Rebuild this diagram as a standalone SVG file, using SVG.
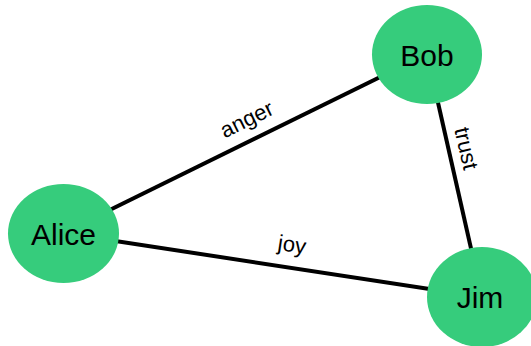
<svg xmlns="http://www.w3.org/2000/svg" width="531" height="346" viewBox="0 0 531 346">
  <style>
    .node ellipse { fill: #36cc7c; }
    .node text { font-family: "Liberation Sans", Arial, sans-serif; font-size: 30px; fill: #000; text-anchor: middle; }
    .edges line { stroke: #000; stroke-width: 4; }
    .edges text { font-family: "Liberation Sans", Arial, sans-serif; font-size: 22px; fill: #000; text-anchor: middle; }
  </style>
  <rect width="531" height="346" fill="#fff"/>
  <g class="edges">
    <line x1="63" y1="233" x2="427" y2="54"/>
    <line x1="63" y1="233" x2="482" y2="297"/>
    <line x1="427" y1="54" x2="482" y2="297"/>
    <text transform="translate(250,126) rotate(-26.2)">anger</text>
    <text transform="translate(291,252) rotate(8.7)">joy</text>
    <text transform="translate(459,150) rotate(77.2)">trust</text>
  </g>
  <g id="alice" class="node">
    <ellipse cx="63.5" cy="233.5" rx="55.5" ry="49.5"/>
    <text x="63.5" y="245">Alice</text>
  </g>
  <g id="bob" class="node">
    <ellipse cx="427" cy="54.5" rx="55" ry="49.5"/>
    <text x="427" y="66">Bob</text>
  </g>
  <g id="jim" class="node">
    <ellipse cx="482" cy="297" rx="55" ry="50"/>
    <text x="480" y="308">Jim</text>
  </g>
</svg>
